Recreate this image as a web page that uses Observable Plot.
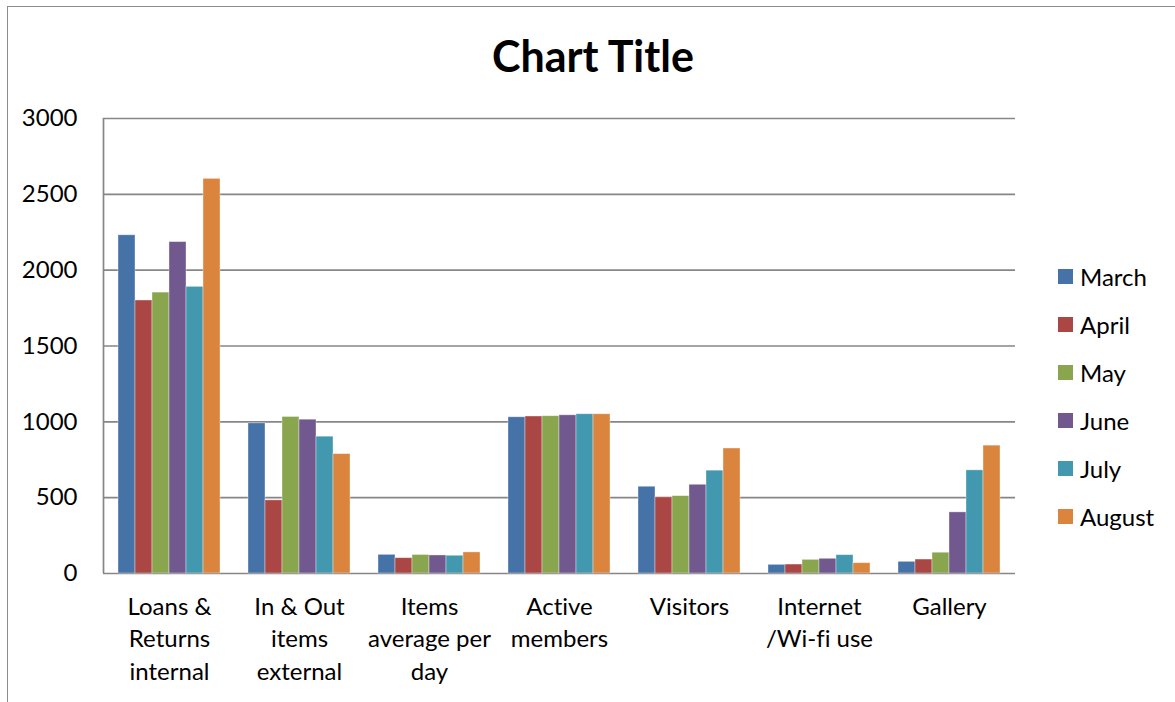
<!DOCTYPE html>
<html>
<head>
<meta charset="utf-8">
<script src="https://cdn.jsdelivr.net/npm/d3@7"></script>
<script src="https://cdn.jsdelivr.net/npm/@observablehq/plot@0.6"></script>
<style>
  html, body { margin: 0; padding: 0; background: #fff; }
  #chart { position: relative; width: 1175px; height: 702px; overflow: hidden; font-family: Lato, "Open Sans", sans-serif; font-variant-ligatures: none; }
  #chart svg { font-variant-ligatures: none; }
  #edge { position: absolute; left: 7px; top: 6px; right: -5px; bottom: -5px; border-left: 1.5px solid #8c8c8c; border-top: 1.5px solid #8c8c8c; }
  #title { position: absolute; left: 7px; width: 1172px; top: 30px; text-align: center; font-size: 43px; font-weight: 700; color: #000; }
  .layer { position: absolute; left: 0; top: 0; }
  #legend { position: absolute; left: 1058px; top: 252px; }
  .item { display: flex; align-items: center; height: 48.1px; font-size: 24px; color: #000; }
  .sw { width: 15px; height: 15px; margin-right: 7px; }
</style>
</head>
<body>
<div id="chart">
  <div id="edge"></div>
  <div id="title">Chart Title</div>
  <div id="back" class="layer"></div>
  <div id="bars" class="layer"></div>
  <div id="legend"></div>
</div>
<script>
// Categories (with line breaks as shown under the axis)
const categories = [
  "Loans &\nReturns\ninternal",
  "In & Out\nitems\nexternal",
  "Items\naverage per\nday",
  "Active\nmembers",
  "Visitors",
  "Internet\n/Wi-fi use",
  "Gallery"
];
const months = ["March", "April", "May", "June", "July", "August"];
const colors = ["#4572A7", "#AA4643", "#89A54E", "#71588F", "#4198AF", "#DB843D"];
const yTicks = [0, 500, 1000, 1500, 2000, 2500, 3000];

// One array per month, values in category order
const march  = [2230,  990, 123, 1030, 572,  57,  77];
const april  = [1800,  482, 101, 1035, 502,  59,  92];
const may    = [1852, 1032, 122, 1037, 510,  90, 137];
const june   = [2185, 1014, 119, 1043, 585,  97, 403];
const july   = [1890,  902, 117, 1050, 678, 121, 680];
const august = [2602,  787, 139, 1050, 824,  68, 843];

const seriesValues = [march, april, may, june, july, august];
const rows = [];
months.forEach((m, i) => {
  categories.forEach((c, j) => rows.push({category: c, month: m, value: seriesValues[i][j]}));
});

const W = 1030, H = 702;
const margins = {marginLeft: 103, marginRight: 15, marginTop: 118, marginBottom: 129};
const font = "Lato, 'Open Sans', sans-serif";

// Background layer: gridlines, value axis and its left edge
const back = Plot.plot({
  width: W, height: H, ...margins,
  style: {fontFamily: font, fontSize: "24px", color: "#000", background: "transparent"},
  x: {domain: [0, 1], axis: null},
  y: {domain: [0, 3000], ticks: yTicks, tickFormat: d => String(d), tickSize: 0, tickPadding: 26, label: null},
  marks: [
    Plot.ruleY(yTicks, {stroke: "#868686", strokeWidth: 1.7}),
    Plot.ruleX([0], {stroke: "#868686", strokeWidth: 1.7})
  ]
});
document.getElementById("back").appendChild(back);

// Bar layer: grouped bars faceted by category
const bars = Plot.plot({
  width: W, height: H, ...margins,
  style: {fontFamily: font, fontSize: "24px", color: "#000", background: "transparent"},
  fx: {domain: categories, paddingInner: 0.2, paddingOuter: 0.1, axis: null},
  x: {domain: months, padding: 0, axis: null},
  y: {domain: [0, 3000], axis: null},
  color: {domain: months, range: colors},
  marks: [
    Plot.barY(rows, {fx: "category", x: "month", y: "value", fill: "month",
      stroke: "#ffffff", strokeOpacity: 0.45, strokeWidth: 0.8}),
    Plot.axisFx({anchor: "bottom", tickSize: 0, tickPadding: 19, lineHeight: 1.34,
      fontSize: 24, label: null, textAnchor: "middle"})
  ]
});
document.getElementById("bars").appendChild(bars);

// Legend built from the same month and colour arrays
const legend = document.getElementById("legend");
months.forEach((m, i) => {
  const item = document.createElement("div");
  item.className = "item";
  const sw = document.createElement("div");
  sw.className = "sw";
  sw.style.background = colors[i];
  const label = document.createElement("span");
  label.textContent = m;
  item.appendChild(sw);
  item.appendChild(label);
  legend.appendChild(item);
});
</script>
</body>
</html>
